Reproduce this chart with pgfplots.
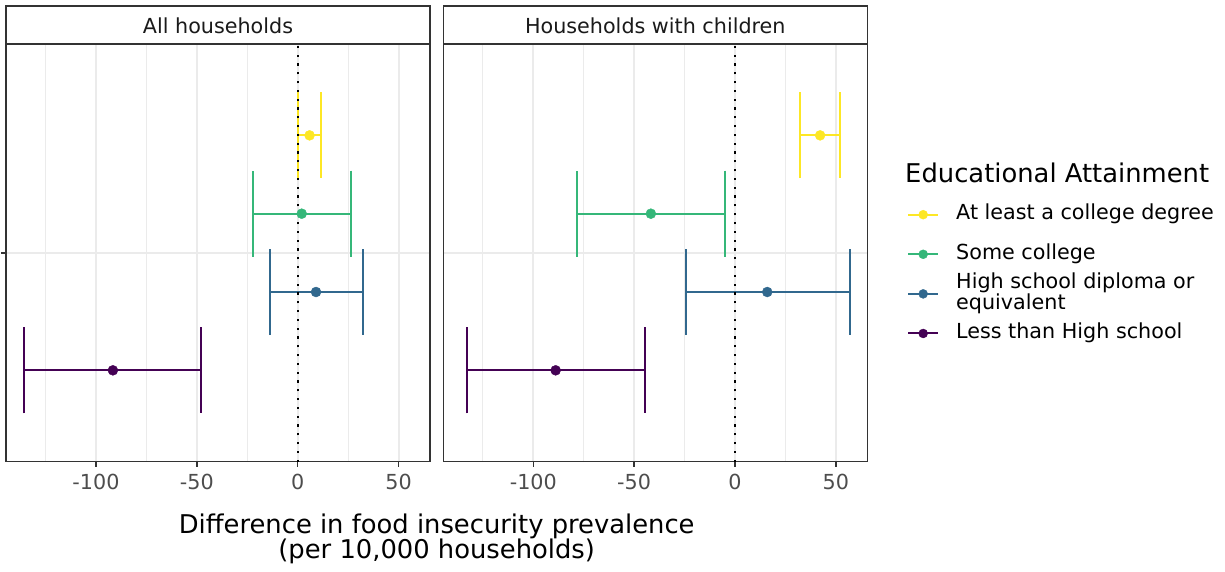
\documentclass[border=0pt]{standalone}
\usepackage{pgfplots}
\pgfplotsset{compat=1.18}
\usepackage{fontspec}
\setmainfont{DejaVu Sans}
\definecolor{vyellow}{HTML}{FDE725}
\definecolor{vgreen}{HTML}{35B779}
\definecolor{vblue}{HTML}{31688E}
\definecolor{vpurple}{HTML}{440154}
\definecolor{grid92}{HTML}{EBEBEB}
\definecolor{gray20}{HTML}{333333}
\definecolor{gray30}{HTML}{4D4D4D}
\definecolor{gray10}{HTML}{1A1A1A}
\newcommand\smallfont{\fontsize{20.7}{22}\selectfont}
\newcommand\bigfont{\fontsize{25.8}{25}\selectfont}
\pgfplotsset{
 panel/.style={
  scale only axis, width=424pt, height=417.7pt, anchor=south west,
  xmin=-144.6, xmax=65.6, ymin=0.4, ymax=1.6,
  xtick={-100,-50,0,50}, xticklabels={-100,-50,0,50},
  minor xtick={-125,-75,-25,25},
  ytick={1}, yticklabels={},
  xmajorgrids, xminorgrids, ymajorgrids,
  major grid style={grid92, line width=2pt},
  minor grid style={grid92, line width=1pt},
  axis line style={gray20, line width=1.4pt},
  tick align=outside, xtick pos=bottom, ytick pos=left,
  major tick length=5pt, minor tick length=0pt,
  tick style={gray20, line width=1.4pt},
  xticklabel style={font=\smallfont, text=gray30, inner sep=0pt, yshift=-7.4pt},
  clip=false,
 },
 ci/.style={only marks, mark=*, mark size=5pt, mark options={solid},
   error bars/.cd, x dir=both, x explicit,
   error bar style={line width=2pt, solid},
   error mark options={rotate=90, mark size=43pt, line width=2pt}},
 zl/.style={black, line width=2.2pt, dash pattern=on 2.2pt off 6.6pt, forget plot},
}
\begin{document}
\begin{tikzpicture}
\useasboundingbox (0pt,0pt) rectangle (1225pt,571pt);
% ---------- left panel
\begin{axis}[panel, at={(6pt,109.3pt)}]
\addplot[vyellow, ci] table[x=x, y=y, x error plus expr=\thisrow{hi}-\thisrow{x}, x error minus expr=\thisrow{x}-\thisrow{lo}] {
x y lo hi
5.9 1.3375 0.3 11.4
};
\addplot[vgreen, ci] table[x=x, y=y, x error plus expr=\thisrow{hi}-\thisrow{x}, x error minus expr=\thisrow{x}-\thisrow{lo}] {
x y lo hi
2.0 1.1125 -22.2 26.6
};
\addplot[vblue, ci] table[x=x, y=y, x error plus expr=\thisrow{hi}-\thisrow{x}, x error minus expr=\thisrow{x}-\thisrow{lo}] {
x y lo hi
9.1 0.8875 -13.8 32.3
};
\addplot[vpurple, ci] table[x=x, y=y, x error plus expr=\thisrow{hi}-\thisrow{x}, x error minus expr=\thisrow{x}-\thisrow{lo}] {
x y lo hi
-91.6 0.6625 -135.5 -47.7
};
\addplot[zl] coordinates {(0,0.4) (0,1.6)};
\end{axis}
% ---------- right panel
\begin{axis}[panel, at={(443.3pt,109.3pt)}, ytick style={draw=none},
  legend style={at={(1.0936,0.6158)}, anchor=north west, draw=none, fill=none,
    inner sep=0pt, row sep=19.6pt, column sep=17pt, font=\smallfont,
    nodes={inner sep=0pt, text height=15pt, text depth=5pt}, cells={anchor=west}},
  legend image code/.code={\draw[#1, line width=2pt] (0pt,0pt) -- (30pt,0pt);
     \fill[#1] (15pt,0pt) circle (4.5pt);}]
\addplot[forget plot, vyellow, ci] table[x=x, y=y, x error plus expr=\thisrow{hi}-\thisrow{x}, x error minus expr=\thisrow{x}-\thisrow{lo}] {
x y lo hi
42.2 1.3375 32.3 52.1
};
\addplot[forget plot, vgreen, ci] table[x=x, y=y, x error plus expr=\thisrow{hi}-\thisrow{x}, x error minus expr=\thisrow{x}-\thisrow{lo}] {
x y lo hi
-41.7 1.1125 -78.4 -4.8
};
\addplot[forget plot, vblue, ci] table[x=x, y=y, x error plus expr=\thisrow{hi}-\thisrow{x}, x error minus expr=\thisrow{x}-\thisrow{lo}] {
x y lo hi
16.0 0.8875 -24.1 56.9
};
\addplot[forget plot, vpurple, ci] table[x=x, y=y, x error plus expr=\thisrow{hi}-\thisrow{x}, x error minus expr=\thisrow{x}-\thisrow{lo}] {
x y lo hi
-88.9 0.6625 -132.8 -44.6
};
\addplot[zl] coordinates {(0,0.4) (0,1.6)};
\addlegendimage{vyellow}\addlegendentry{At least a college degree}
\addlegendimage{vgreen}\addlegendentry{Some college}
\addlegendimage{vblue}\addlegendentry{\smash{\parbox[c]{12cm}{\raggedright\fontsize{20.7}{18.6}\selectfont High school diploma or\\equivalent}}}
\addlegendimage{vpurple}\addlegendentry{Less than High school}
\end{axis}
% ---------- strips
\draw[gray20, line width=1.4pt, fill=white] (6pt,527pt) rectangle (430pt,565pt);
\node[font=\smallfont, text=gray10, inner sep=0pt] at (218pt,545.5pt) {All households};
\draw[gray20, line width=1.4pt, fill=white] (443.3pt,527pt) rectangle (867.3pt,565pt);
\node[font=\smallfont, text=gray10, inner sep=0pt] at (655.3pt,545.5pt) {Households with children};
% ---------- titles
\node[align=center, font=\bigfont, anchor=north, inner sep=0pt] at (436.7pt,57pt) {Difference in food insecurity prevalence\\(per 10,000 households)};
\node[anchor=west, font=\bigfont, inner sep=0pt] at (905pt,398pt) {Educational Attainment};
\end{tikzpicture}
\end{document}
